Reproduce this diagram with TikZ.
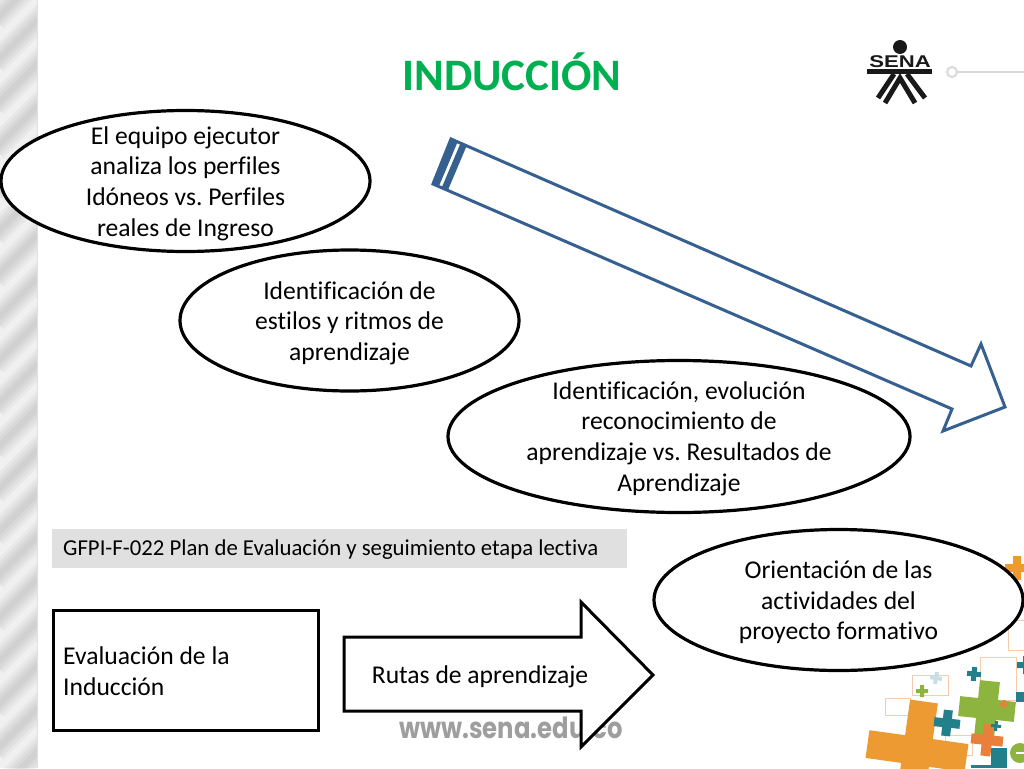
\documentclass[tikz,border=0pt]{standalone}
\usepackage{fontspec}
\setmainfont[Ligatures=NoCommon]{Carlito}
\newfontfamily\webfont{Poppins}
\newfontfamily\logofont{Liberation Sans}
\frenchspacing
\usetikzlibrary{shapes.geometric}
\definecolor{senagreen}{HTML}{00B050}
\definecolor{arrowblue}{HTML}{36608F}
\definecolor{plusorange}{HTML}{EE9A33}
\definecolor{plusred}{HTML}{E97F3B}
\definecolor{plusgreen}{HTML}{8DB43E}
\definecolor{plusteal}{HTML}{21808A}
\tikzset{
    bubble/.style={draw, ellipse, line width=3.2pt, fill=white, inner sep=0pt},
    bubbletext/.style={inner sep=0pt, align=center, font=\bodytext},
    panel/.style={draw, rectangle, line width=3pt, fill=white},
    panteltext/.style={inner sep=0pt, align=flush left, font=\bodytext},
    band/.style={line width=#1, draw=black, draw opacity=0.03},
    frame/.style={draw=plusred!40, line width=1pt}
}
\newcommand{\bodytext}{\fontsize{25.6}{30.6}\selectfont}
\newcommand{\plussign}[6]{% x, y, angle, half length, half width, colour
    \fill[#6, rotate around={#3:(#1,#2)}]
        (#1-#5,#2-#4) -- (#1+#5,#2-#4) -- (#1+#5,#2-#5) -- (#1+#4,#2-#5) -- (#1+#4,#2+#5) -- (#1+#5,#2+#5)
        -- (#1+#5,#2+#4) -- (#1-#5,#2+#4) -- (#1-#5,#2+#5) -- (#1-#4,#2+#5) -- (#1-#4,#2-#5) -- (#1-#5,#2-#5) -- cycle;
}
\begin{document}
\begin{tikzpicture}[x=1pt,y=-1pt]
    \useasboundingbox (0,0) rectangle (1024,768);
    \fill[white] (0,0) rectangle (1024,768);

    \begin{scope}
        \clip (0,0) rectangle (37,768);
        \fill[black!6] (0,0) rectangle (37,768);
        \foreach \y in {0,43,...,860} {
            \foreach \w in {6,12,18,24} {
                \draw[band=\w pt] (-5,\y+20) -- (45,\y-30);
            }
        }
    \end{scope}
    \draw[black!12, line width=1pt] (37,0) -- (37,768);

    \draw[black!15, line width=2pt] (958,72) -- (1024,72);
    \draw[black!15, line width=2pt, fill=white] (952,72) circle (5);

    \fill[black!90] (900,47) circle (7);
    \node[font=\logofont\bfseries\fontsize{17}{17}\selectfont, black!90, inner sep=0pt, xscale=1.3] (logotext) at (900,62) {SENA};
    \fill[black!90] (867,69) rectangle (932,74);
    \draw[black!90, line width=5pt] (894,74) -- (878,98);
    \draw[black!90, line width=5pt] (907,74) -- (925,98);
    \draw[black!90, line width=5pt] (885,103) -- (900,78) -- (915,103);

    \draw[frame] (885,698) rectangle (910,715);
    \draw[frame] (912,675) rectangle (948,695);
    \draw[frame] (980,657) rectangle (1016,700);
    \draw[frame] (945,735) rectangle (972,755);
    \draw[frame] (1008,620) rectangle (1024,650);
    \plussign{1017}{568}{0}{12}{4}{plusorange}
    \plussign{917}{751}{-8}{50}{14}{plusorange}
    \plussign{987}{709}{-6}{28}{10}{plusgreen}
    \plussign{947}{723}{-6}{13}{4.5}{plusteal}
    \plussign{987}{740}{-6}{16}{5}{plusred}
    \plussign{974}{674}{-6}{7}{2.5}{plusteal}
    \plussign{922}{691}{0}{6}{2}{plusgreen}
    \plussign{936}{678}{-10}{6}{2}{plusteal!25}
    \plussign{1004}{704}{0}{4}{1.5}{plusred}
    \plussign{996}{726}{-6}{5}{1.5}{plusteal}
    \plussign{1026}{665}{0}{9}{3}{plusteal}
    \fill[plusteal] (1016,692) rectangle (1024,702);
    \fill[plusteal] (991,748) rectangle (1007,768);
    \fill[plusteal] (971,765) rectangle (991,768);
    \fill[plusgreen] (1020,753) circle (10);
    \fill[white] (1016,752) rectangle (1024,754);

    \node[font=\webfont\bfseries\fontsize{24.3}{24}\selectfont, black!38, inner sep=0pt, yscale=1.2] (website) at (511,728) {www.sena.edu.co};

    \node[font=\fontsize{45}{45}\selectfont\bfseries, senagreen, inner sep=0pt] (title) at (512,72) {INDUCCIÓN};

    \draw[arrowblue, line width=3pt, line join=miter, fill=white] (451,139) -- (971,366) -- (981,344) -- (1005,407) -- (943,431) -- (952,409) -- (433,184) -- cycle;
    \fill[arrowblue] (451,138) -- (458,141) -- (439,186) -- (432,183) -- cycle;
    \fill[arrowblue] (461,142) -- (467,145) -- (448,190) -- (442,187) -- cycle;

    \node[bubble, minimum width=369pt, minimum height=141pt] (analysis) at (185.5,181) {};
    \node[bubbletext] (analysistext) at ([yshift=-2.5pt]analysis.center) {El equipo ejecutor\\analiza los perfiles\\Idóneos vs. Perfiles\\reales de Ingreso};
    \node[bubble, minimum width=339pt, minimum height=141pt] (styles) at (349.5,320.5) {};
    \node[bubbletext] (stylestext) at ([yshift=-2.5pt]styles.center) {Identificación de\\estilos y ritmos de\\aprendizaje};
    \node[bubble, minimum width=462pt, minimum height=152pt] (results) at (679,436.5) {};
    \node[bubbletext] (resultstext) at ([yshift=-2pt]results.center) {Identificación, evolución\\reconocimiento de\\aprendizaje vs. Resultados de\\Aprendizaje};
    \node[bubble, minimum width=369pt, minimum height=141pt] (guidance) at (838.5,600) {};
    \node[bubbletext] (guidancetext) at ([yshift=-2.5pt]guidance.center) {Orientación de las\\actividades del\\proyecto formativo};

    \node[fill=black!12, minimum width=575pt, minimum height=39pt, inner sep=0pt] (plan) at (339.5,548.5) {};
    \node[right, inner sep=0pt, font=\fontsize{22.75}{27}\selectfont] (plantext) at (63,550) {GFPI-F-022 Plan de Evaluación y seguimiento etapa lectiva};

    \node[panel, minimum width=265pt, minimum height=120pt] (evaluation) at (185.5,670) {};
    \node[panteltext, right] (evaluationtext) at (63,671) {Evaluación de la\\Inducción};

    \draw[black, line width=3pt, line join=miter, fill=white] (344,637) -- (581,637) -- (581,602) -- (653,675) -- (581,747) -- (581,711) -- (344,711) -- cycle;
    \node[font=\bodytext, inner sep=0pt] (routes) at (480,677) {Rutas de aprendizaje};
\end{tikzpicture}
\end{document}
